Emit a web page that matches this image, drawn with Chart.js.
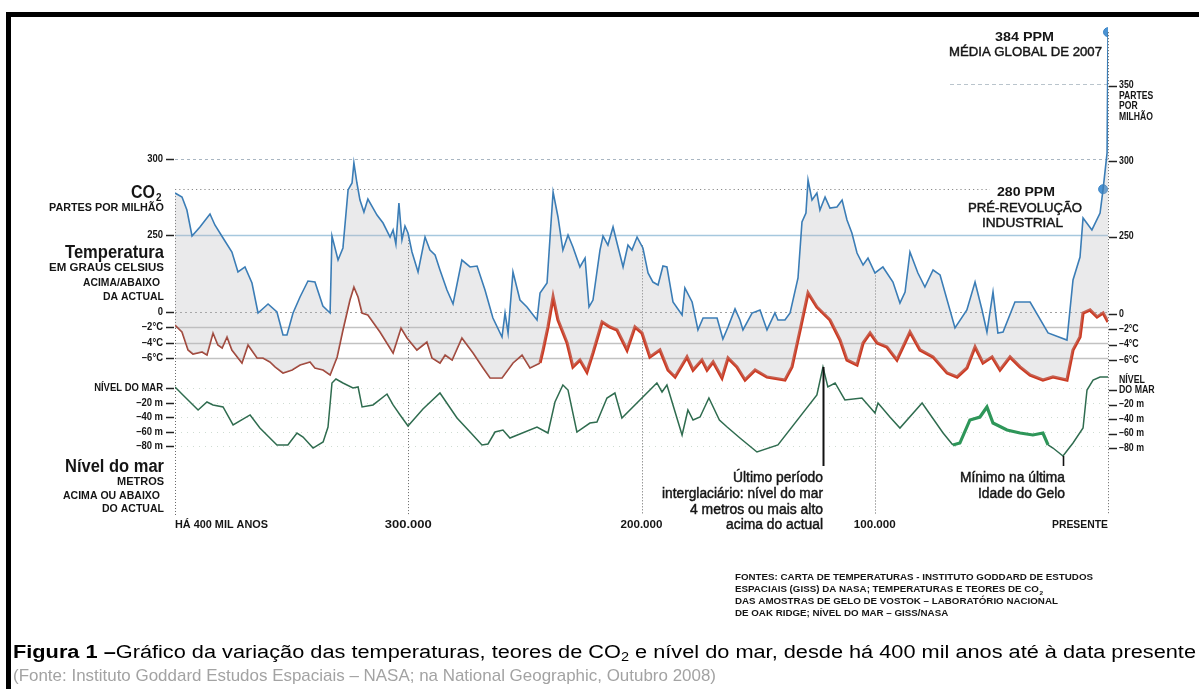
<!DOCTYPE html>
<html>
<head>
<meta charset="utf-8">
<script src="https://cdn.jsdelivr.net/npm/chart.js@4.4.1/dist/chart.umd.min.js"></script>
<style>
html,body{margin:0;padding:0;background:#fff;overflow:hidden}
canvas{display:block}
</style>
</head>
<body>
<canvas id="c" width="1199" height="689" style="width:1199px;height:689px"></canvas>
<script>
// Ages in thousands of years before present (negative = past)
const co2Age = [-400,-397,-394.9,-392.7,-389.3,-385,-382.9,-379.4,-375.6,-373,
  -370,-367,-364.4,-360.1,-356.3,-353.7,-352,-349.4,-346.4,-343,
  -340,-336.6,-333.5,-332.7,-330.1,-328,-325.8,-324.1,-323.3,-322,
  -320.7,-319,-317.3,-313.4,-310.8,-307.8,-306.5,-305.3,-304,-302.7,
  -301.4,-300.1,-298.4,-295.8,-292.8,-290.7,-288.5,-286.4,-283.4,-280.8,
  -277,-273.5,-270.5,-267.1,-263.7,-259.8,-258.5,-257.2,-255.1,-252.1,
  -249.1,-244.8,-243.5,-240.5,-239.2,-237.9,-235.8,-233.7,-231.5,-229.4,
  -226.4,-224.2,-222.5,-220.8,-217.8,-216.5,-214.4,-212.2,-210.5,-207.9,
  -205.8,-204.1,-201.9,-199.4,-197.2,-195.1,-192.9,-190.8,-189.1,-186.5,
  -182.6,-181.4,-178.3,-175.8,-173.6,-167.6,-165.1,-162.9,-159.9,-157.8,
  -156.5,-152.6,-149.2,-146.2,-142.8,-141.5,-138.5,-136.3,-132.9,-131.2,
  -129.5,-128.6,-126.9,-124.8,-123.5,-121.3,-119.2,-116.2,-114,-111.9,
  -109.8,-107.6,-105,-102.9,-99.9,-96.5,-92.2,-89.2,-87,-84.9,
  -81.5,-78.5,-75,-72,-65.6,-60.5,-57,-54,-51.9,-49.3,
  -47.2,-45,-39.9,-33.4,-25.7,-17.6,-15,-12,-10.7,-6.9,
  -3.4,-2.1,-0.4,0];
// CO2, parts per million
const co2Ppm = [277.5,274.8,266.2,249,255,263.6,256.3,247.7,238.4,225.2,
  228.5,217.9,198,204,198.7,183.4,183.4,198,208.6,219.2,
  218.5,202.6,198,249,233.1,241.1,279.5,284.1,297.4,284.1,
  272.8,264.9,273.5,262.9,257.6,248.3,253,243.7,270.9,246.4,
  255.6,251,238.4,225.2,248.3,239.7,236.4,226.5,213.2,204,
  233.1,228.5,229.1,213.2,194.7,182.1,198,184.8,225.2,206.6,
  202,193.4,211.3,217.9,248.3,278.1,261.6,239.7,249.7,241.7,
  228.5,234.4,202,206.6,239.7,249,243,255,244.4,228.5,
  243,239.7,248.3,241.1,224.5,218.5,216.6,229.1,228.5,205.3,
  196.7,214.6,205.3,186.8,194.7,194.7,180.8,188.7,200.7,193.4,
  186.8,198,200,186.8,198,193.4,193.4,198,221.2,258.3,
  264.2,286.1,272.8,277.5,266.2,274.8,267.5,268.2,272.8,259.6,
  251,237.7,229.8,234.4,224.5,228.5,218.5,204.6,211.9,238.4,
  224.5,215.2,226.5,223.2,188.1,200,218.5,200,185.4,211.9,
  184.8,185.4,205.3,205.3,184.8,180.1,219.9,235.1,260.9,253,
  264.2,280,304,384];

const tempAge = [-400,-397,-394.4,-392.3,-388.4,-386.3,-383.7,-381.6,-379.8,-377.7,
  -375.6,-371.3,-368.7,-364.8,-362.3,-359.3,-357.1,-353.7,-349.8,-346.4,
  -342.1,-340,-336.5,-333.5,-330.5,-328,-325,-323.3,-321.5,-319.8,
  -317.3,-312.1,-306.5,-303.1,-300.5,-296.3,-292,-289.8,-286.4,-284.2,
  -281.2,-277,-272.2,-267.9,-264.9,-259.8,-255.1,-251.2,-247.8,-243.5,
  -242.2,-240.1,-237.9,-235.8,-231.9,-229.4,-226.4,-223.4,-220.8,-216.9,
  -213.5,-210.5,-206.2,-202.8,-199.8,-196.4,-192.1,-188.6,-185.6,-180.5,
  -177.9,-174.1,-171.9,-169.3,-165.5,-162.9,-159.1,-155.6,-151.3,-146.2,
  -138.5,-135.5,-132,-128.6,-124.8,-119.2,-114.9,-111.9,-107.6,-105,
  -102,-99,-94.8,-90.5,-84.9,-80.6,-75,-69,-64.7,-60.5,
  -57,-53.6,-49.7,-46.3,-42,-37.7,-33.4,-27.9,-23.6,-17.6,
  -15,-12,-10.7,-7.7,-4.7,-2.1,0];
// Temperature, degrees Celsius relative to today
const tempC = [-1.7,-2.61,-4.96,-5.48,-5.22,-5.61,-2.74,-4.3,-4.7,-3.26,
  -4.96,-6.65,-4.3,-6,-6,-6.52,-7.17,-7.96,-7.57,-6.91,
  -6.52,-7.3,-7.57,-8.22,-5.87,-2.35,1.57,3.26,1.96,-0.13,
  -0.39,-2.61,-5.35,-2.09,-3.39,-4.96,-3.91,-6,-6.65,-5.61,
  -6.26,-3.39,-5.35,-7.3,-8.61,-8.61,-6.65,-5.61,-7.3,-6.65,
  -4.96,-1.96,1.96,-1.04,-4.04,-7.17,-6.26,-7.83,-5.35,-1.3,
  -1.96,-2.35,-4.96,-1.96,-2.74,-5.87,-4.96,-7.57,-8.48,-5.87,
  -7.57,-6.26,-7.57,-6.52,-8.61,-6,-7.17,-8.87,-7.57,-8.48,
  -8.87,-7.17,-2.35,2.48,0.65,-1.04,-3.65,-6.26,-6.91,-4.04,
  -2.74,-4.04,-4.57,-6.26,-2.61,-4.96,-5.87,-7.96,-8.48,-7.3,
  -4.57,-6.65,-5.87,-7.57,-5.87,-7.17,-8.22,-8.87,-8.48,-8.87,
  -4.96,-3.26,-0.13,0.26,-0.65,-0.13,-1.3];

const seaAge = [-400,-396.6,-390.1,-386.3,-383.7,-379.4,-375.1,-367.8,-363.6,-356.3,
  -351.6,-347.7,-345.1,-340.8,-336.5,-334.4,-332.7,-331,-328,-323.7,
  -321.5,-319.8,-315.1,-309.1,-306.5,-303.5,-300.1,-293.7,-286.4,-279.1,
  -273.5,-268.4,-265.8,-262.8,-259.4,-256.4,-244.8,-240.1,-237.1,-233.7,
  -231.5,-227.7,-222.1,-219.1,-214.8,-211.4,-208.4,-193.4,-191.2,-189.1,
  -182.6,-180.1,-177.9,-174.9,-171.1,-166.6,-163.3,-157.8,-150.5,-141.5,
  -124.8,-122.2,-120.1,-117,-112.8,-105.5,-99.9,-98.6,-93.5,-89.2,
  -79.7,-70.7,-66.5,-63.5,-59.2,-54.9,-51.9,-49.3,-43.3,-37.7,
  -32.2,-27.9,-25.7,-23.6,-19.3,-15,-10.7,-9,-6.4,-3.4,
  0];
// Sea level, metres relative to today
const seaM = [1.4,-9.7,-30.3,-19.3,-23.4,-26.2,-51,-37.2,-55.2,-78.6,
  -78.6,-62.1,-67.6,-82.8,-74.5,-53.8,6.9,12.4,6.9,0,
  1.4,-26.2,-23.4,-8.3,-23.4,-37.2,-52.4,-29,-6.9,-41.4,
  -60.7,-78.6,-77.2,-60.7,-57.9,-69,-53.8,-62.1,-19.3,4.1,
  -2.8,-60.7,-48.3,-46.9,-13.8,-6.9,-41.4,6.9,-5.5,4.1,
  -64.8,-30.3,-44.1,-40,-13.8,-44.1,-53.8,-69,-88.3,-78.6,
  -9.7,29,1.4,6.9,-16.5,-13.8,-34.5,-20.7,-40,-55.2,
  -20.7,-62.1,-78.6,-75.9,-44.1,-40,-26.2,-48.3,-57.9,-62.1,
  -64.8,-62.1,-78.6,-82.8,-93.8,-75.9,-55.2,-2.8,11,15.2,
  15.2];

// Highlighted CO2 readings
const markAge = [-2.1, 0];
const markPpm = [280, 384];

// Tick labels
const co2TicksLeft = [300, 250];
const co2TicksRight = [350, 300, 250];
const tempTicks = [0, -2, -4, -6];
const tempTickLabels = ['0', '–2°C', '–4°C', '–6°C'];
const seaTicks = [0, -20, -40, -60, -80];
const seaTickLabels = ['NÍVEL DO MAR', '–20 m', '–40 m', '–60 m', '–80 m'];
const ageTicks = [-400, -300, -200, -100, 0];
const ageTickLabels = ['HÁ 400 MIL ANOS', '300.000', '200.000', '100.000', 'PRESENTE'];

// Annotation anchors (ages)
const interglacialAge = -122.2;
const glacialMinAge = -19.3;

const zip = (xs, ys) => xs.map((x, i) => ({x, y: ys[i]}));

// plot frame in canvas pixels
const AREA = {left: 175, right: 1108, top: 20, bottom: 520};
// value v1 sits at pixel p1, and k pixels per unit
function range(v1, p1, k) {
  return {min: v1 - (AREA.bottom - p1) / k, max: v1 + (p1 - AREA.top) / k};
}
const rC = range(300, 159, 1.51);
const rT = range(0, 312, 7.667);
const rS = range(0, 388, 0.725);

const SANS = '"Liberation Sans", Arial, Helvetica, sans-serif';

function txt(ctx, s, x, y, o) {
  o = o || {};
  ctx.save();
  ctx.font = o.font || ('bold 10px ' + SANS);
  ctx.fillStyle = o.color || '#151515';
  ctx.textBaseline = 'middle';
  ctx.textAlign = 'left';
  const w = ctx.measureText(s).width;
  const sx = o.w ? o.w / w : (o.sx || 1);
  const W = w * sx;
  let x0 = x;
  if (o.align === 'right') x0 = x - W;
  else if (o.align === 'center') x0 = x - W / 2;
  ctx.translate(x0, y);
  ctx.scale(sx, 1);
  if (o.stroke) {
    ctx.strokeStyle = o.color || '#151515';
    ctx.lineWidth = o.stroke;
    ctx.strokeText(s, 0, 0);
  }
  ctx.fillText(s, 0, 0);
  ctx.restore();
  return W;
}

function interp(xs, ys, x) {
  for (let i = 1; i < xs.length; i++) {
    if (x <= xs[i]) {
      const t = (x - xs[i - 1]) / (xs[i] - xs[i - 1]);
      return ys[i - 1] + t * (ys[i] - ys[i - 1]);
    }
  }
  return ys[ys.length - 1];
}

function hline(ctx, y, x1, x2, color, width, dash) {
  ctx.save();
  ctx.strokeStyle = color;
  ctx.lineWidth = width;
  ctx.setLineDash(dash || []);
  ctx.beginPath();
  ctx.moveTo(x1, Math.round(y) + 0.5);
  ctx.lineTo(x2, Math.round(y) + 0.5);
  ctx.stroke();
  ctx.restore();
}
function vline(ctx, x, y1, y2, color, width, dash) {
  ctx.save();
  ctx.strokeStyle = color;
  ctx.lineWidth = width;
  ctx.setLineDash(dash || []);
  ctx.beginPath();
  ctx.moveTo(Math.round(x) + 0.5, y1);
  ctx.lineTo(Math.round(x) + 0.5, y2);
  ctx.stroke();
  ctx.restore();
}

const decor = {
  id: 'decor',
  beforeDatasetsDraw(chart) {
    const ctx = chart.ctx;
    const sx = chart.scales.x, sC = chart.scales.yC, sT = chart.scales.yT, sS = chart.scales.yS;
    const L = chart.chartArea.left, R = chart.chartArea.right;
    // reference levels
    hline(ctx, sC.getPixelForValue(350), 950, R, '#b9c4cc', 1, [4, 3]);
    hline(ctx, sC.getPixelForValue(300), L, R, '#a9b6c2', 1, [3, 3]);
    hline(ctx, sC.getPixelForValue(280), L, 990, '#8a8a8a', 1.2, [1.2, 3]);
    hline(ctx, sC.getPixelForValue(250), L, R, '#a6c8de', 1.3);
    hline(ctx, sT.getPixelForValue(0), L, R, '#a0a0a0', 1, [2, 3]);
    [-2, -4, -6].forEach(v => hline(ctx, sT.getPixelForValue(v), L, R, '#c2c2c2', 1.3));
    seaTicks.forEach(v => hline(ctx, sS.getPixelForValue(v), L, R, '#cfdcd2', 1, [1, 5]));
    // age gridlines hanging from the CO2 curve
    const bottom = 515;
    vline(ctx, sx.getPixelForValue(-400), sC.getPixelForValue(co2Ppm[0]), bottom, '#666', 1, [1, 2]);
    vline(ctx, sx.getPixelForValue(0), sC.getPixelForValue(384), bottom, '#666', 1, [1, 2]);
    [-300, -200, -100].forEach(a => {
      const y0 = sC.getPixelForValue(interp(co2Age, co2Ppm, a));
      vline(ctx, sx.getPixelForValue(a), y0, bottom, '#666', 1, [1, 2]);
    });
  },
  afterDatasetsDraw(chart) {
    const ctx = chart.ctx;
    const sx = chart.scales.x, sC = chart.scales.yC, sT = chart.scales.yT, sS = chart.scales.yS;

    // pointer lines
    const xi = sx.getPixelForValue(interglacialAge);
    vline(ctx, xi, sS.getPixelForValue(interp(seaAge, seaM, interglacialAge)), 466, '#111', 2);
    const xm = sx.getPixelForValue(glacialMinAge);
    vline(ctx, xm, sS.getPixelForValue(interp(seaAge, seaM, glacialMinAge)), 466, '#111', 1.6);

    // left ticks
    const tickL = (y, label) => {
      hline(ctx, y, 166, 174, '#222', 1.5);
      txt(ctx, label, 163, y, {align: 'right', font: 'bold 11px ' + SANS, sx: 0.86});
    };
    co2TicksLeft.forEach(v => tickL(sC.getPixelForValue(v), String(v)));
    tempTicks.forEach((v, i) => tickL(sT.getPixelForValue(v), tempTickLabels[i]));
    seaTicks.forEach((v, i) => tickL(sS.getPixelForValue(v), seaTickLabels[i]));

    // right ticks
    const tickR = (y, label) => {
      hline(ctx, y, 1109, 1117, '#222', 1.5);
      if (label) txt(ctx, label, 1119, y, {font: 'bold 10px ' + SANS, sx: 0.88});
    };
    co2TicksRight.forEach(v => tickR(sC.getPixelForValue(v) + 2, String(v)));
    const y350 = sC.getPixelForValue(350) + 2;
    ['PARTES', 'POR', 'MILHÃO'].forEach((s, i) =>
      txt(ctx, s, 1119, y350 + 10.5 * (i + 1), {font: 'bold 10px ' + SANS, sx: 0.86}));
    tempTicks.forEach((v, i) => tickR(sT.getPixelForValue(v) + 2, tempTickLabels[i]));
    seaTicks.forEach((v, i) => {
      const y = sS.getPixelForValue(v) + 2;
      if (i === 0) {
        tickR(y, 'DO MAR');
        txt(ctx, 'NÍVEL', 1119, y - 10, {font: 'bold 10px ' + SANS, sx: 0.88});
      } else tickR(y, seaTickLabels[i]);
    });

    // left titles
    const big = 'bold 19px ' + SANS;
    const small = 'bold 10px ' + SANS;
    txt(ctx, 'CO', 155, 193, {align: 'right', font: big, w: 24});
    txt(ctx, '2', 156, 198, {font: 'bold 11px ' + SANS, sx: 0.9});
    txt(ctx, 'PARTES POR MILHÃO', 164, 208, {align: 'right', font: small, w: 115});
    txt(ctx, 'Temperatura', 164, 253, {align: 'right', font: big, w: 99});
    txt(ctx, 'EM GRAUS CELSIUS', 164, 268, {align: 'right', font: small, w: 115});
    txt(ctx, 'ACIMA/ABAIXO', 160, 283, {align: 'right', font: small, w: 77});
    txt(ctx, 'DA ACTUAL', 164, 297, {align: 'right', font: small, w: 61});
    txt(ctx, 'Nível do mar', 164, 467, {align: 'right', font: 'bold 18px ' + SANS, w: 99});
    txt(ctx, 'METROS', 164, 482, {align: 'right', font: small, w: 47});
    txt(ctx, 'ACIMA OU ABAIXO', 160, 496, {align: 'right', font: small, w: 97});
    txt(ctx, 'DO ACTUAL', 164, 509, {align: 'right', font: small, w: 62});

    // age labels
    const ageW = [93, 47, 42, 42, 56];
    ageTicks.forEach((a, i) => {
      const x = sx.getPixelForValue(a);
      const align = i === 0 ? 'left' : (i === ageTicks.length - 1 ? 'right' : 'center');
      txt(ctx, ageTickLabels[i], x, 525, {align, font: small, w: ageW[i]});
    });

    // CO2 call-outs
    const note = '12px ' + SANS;
    const noteB = 'bold 12px ' + SANS;
    txt(ctx, '384 PPM', 1024.5, 38, {align: 'center', font: noteB, w: 59});
    txt(ctx, 'MÉDIA GLOBAL DE 2007', 1025.5, 53, {align: 'center', font: note, w: 153, stroke: 0.4});
    txt(ctx, '280 PPM', 1026, 193, {align: 'center', font: noteB, w: 58});
    txt(ctx, 'PRÉ-REVOLUÇÃO', 1025, 209, {align: 'center', font: note, w: 114, stroke: 0.4});
    txt(ctx, 'INDUSTRIAL', 1022.5, 224, {align: 'center', font: note, w: 81, stroke: 0.4});

    // sea-level call-outs
    const ann = '14px ' + SANS;
    [['Último período', 478, 90], ['interglaciário: nível do mar', 494, 161],
     ['4 metros ou mais alto', 510, 133], ['acima do actual', 525, 97]].forEach(r =>
      txt(ctx, r[0], 823, r[1], {align: 'right', font: ann, w: r[2], stroke: 0.45}));
    [['Mínimo na última', 478, 105], ['Idade do Gelo', 494, 87]].forEach(r =>
      txt(ctx, r[0], 1065, r[1], {align: 'right', font: ann, w: r[2], stroke: 0.45}));

    // sources
    const srcF = 'bold 9px ' + SANS;
    ctx.save();
    ctx.font = srcF;
    const srcSx = 358 / ctx.measureText('FONTES: CARTA DE TEMPERATURAS - INSTITUTO GODDARD DE ESTUDOS').width;
    ctx.restore();
    txt(ctx, 'FONTES: CARTA DE TEMPERATURAS - INSTITUTO GODDARD DE ESTUDOS', 735, 578, {font: srcF, sx: srcSx});
    const w2 = txt(ctx, 'ESPACIAIS (GISS) DA NASA; TEMPERATURAS E TEORES DE CO', 735, 590, {font: srcF, sx: srcSx});
    txt(ctx, '2', 735 + w2 + 0.5, 593, {font: 'bold 6px ' + SANS, sx: srcSx});
    txt(ctx, 'DAS AMOSTRAS DE GELO DE VOSTOK – LABORATÓRIO NACIONAL', 735, 602, {font: srcF, sx: srcSx});
    txt(ctx, 'DE OAK RIDGE; NÍVEL DO MAR – GISS/NASA', 735, 614, {font: srcF, sx: srcSx});

    // frame
    ctx.save();
    ctx.fillStyle = '#000';
    ctx.fillRect(6, 12, 1199, 5);
    ctx.fillRect(6, 12, 5, 677);
    ctx.restore();

    // caption
    const capB = 'bold 18px ' + SANS, capN = '18px ' + SANS, capS = '12px ' + SANS;
    const parts = [
      ['Figura 1 –', capB, 0], ['Gráfico da variação das temperaturas, teores de CO', capN, 0],
      ['2', capS, 5], [' e nível do mar, desde há 400 mil anos até à data presente', capN, 0]];
    ctx.save();
    let total = 0;
    parts.forEach(p => { ctx.font = p[1]; total += ctx.measureText(p[0]).width; });
    ctx.restore();
    const capSx = 1183 / total;
    let cx = 13;
    parts.forEach(p => { cx += txt(ctx, p[0], cx, 653 + p[2], {font: p[1], sx: capSx, color: '#000'}); });
    txt(ctx, '(Fonte: Instituto Goddard Estudos Espaciais – NASA; na National Geographic, Outubro 2008)',
      13, 676, {font: '17px ' + SANS, w: 703, color: '#a3a3a3'});
  }
};

new Chart(document.getElementById('c'), {
  type: 'line',
  data: {
    datasets: [
      {
        label: 'CO2',
        data: zip(co2Age, co2Ppm),
        yAxisID: 'yC',
        borderColor: '#3b7db6',
        borderWidth: 1.6,
        fill: '+1',
        backgroundColor: 'rgba(185,185,190,0.30)',
        pointRadius: 0,
        tension: 0
      },
      {
        label: 'Temperatura',
        data: zip(tempAge, tempC),
        yAxisID: 'yT',
        borderColor: '#9e3b2d',
        borderWidth: 1.6,
        fill: false,
        pointRadius: 0,
        tension: 0,
        segment: {
          borderColor: c => c.p0.parsed.x >= -245 ? '#cc3a22' : '#9e3b2d',
          borderWidth: c => c.p0.parsed.x >= -245 ? 3.2 : 1.7
        }
      },
      {
        label: 'Nível do mar',
        data: zip(seaAge, seaM),
        yAxisID: 'yS',
        borderColor: '#2f6c4f',
        borderWidth: 1.5,
        fill: false,
        pointRadius: 0,
        tension: 0,
        segment: {
          borderColor: c => (c.p0.parsed.x >= -67 && c.p0.parsed.x < -27) ? '#2e9659' : '#2f6c4f',
          borderWidth: c => (c.p0.parsed.x >= -67 && c.p0.parsed.x < -27) ? 3.2 : 1.5
        }
      },
      {
        label: 'marcas',
        data: zip(markAge, markPpm),
        yAxisID: 'yC',
        showLine: false,
        pointRadius: 4.5,
        pointBackgroundColor: '#4b93d3',
        pointBorderColor: '#3f86c6',
        pointBorderWidth: 1
      }
    ]
  },
  options: {
    responsive: false,
    animation: false,
    devicePixelRatio: 1,
    layout: {padding: {left: AREA.left, right: 1199 - AREA.right, top: AREA.top, bottom: 689 - AREA.bottom}},
    plugins: {legend: {display: false}, tooltip: {enabled: false}},
    scales: {
      x: {type: 'linear', min: -400, max: 0, display: false},
      yC: {type: 'linear', min: rC.min, max: rC.max, display: false},
      yT: {type: 'linear', min: rT.min, max: rT.max, display: false},
      yS: {type: 'linear', min: rS.min, max: rS.max, display: false}
    }
  },
  plugins: [decor]
});
</script>
</body>
</html>
